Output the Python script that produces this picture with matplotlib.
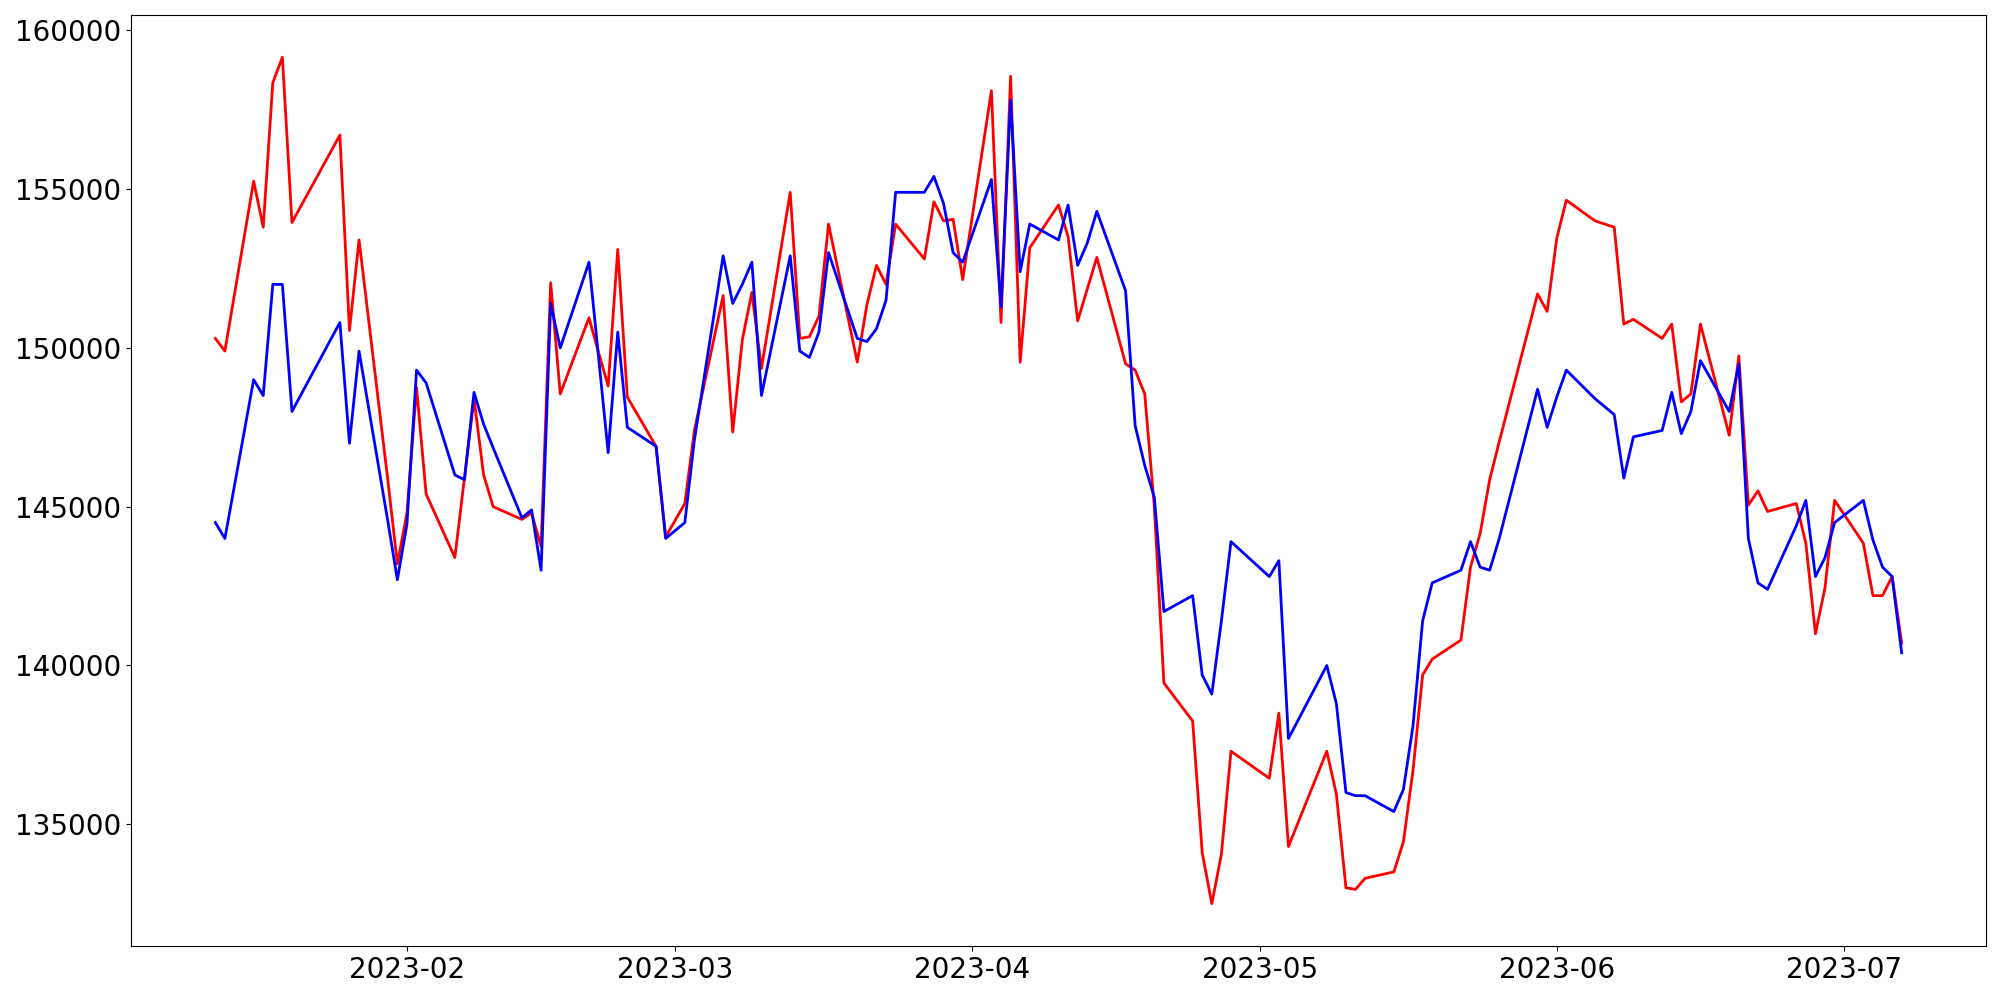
import pandas as pd
import matplotlib
matplotlib.use('Agg')
import matplotlib.pyplot as plt

# 휴장일 (설, 삼일절, 근로자의날, 어린이날, 대체공휴일, 현충일)
HOLIDAYS = ['2023-01-23', '2023-01-24', '2023-03-01', '2023-05-01',
            '2023-05-05', '2023-05-29', '2023-06-06']

dates = pd.bdate_range('2023-01-12', '2023-07-07', freq='C', holidays=HOLIDAYS)

# 실제 종가 (빨강)
actual = [
    150300, 149900, 155250, 153800, 158350, 159150, 153950, 156700, 150550, 153400, 145850, 143200,
    144800, 148750, 145400, 143400, 145900, 148400, 146000, 145000, 144600, 144800,
    143750, 152050, 148550, 150950, 149850, 148800, 153100, 148450, 146900, 144050,
    145100, 147400, 151650, 147350, 150250, 151750, 149350, 154900, 150300, 150350, 151000,
    153900, 149550, 151350, 152600, 152000, 153900, 152800, 154600, 154000, 154050, 152150,
    158100, 150800, 158550, 149550, 153150, 154500, 153500, 150850, 151850, 152850,
    149500, 149300, 148550, 145000, 139450, 138250, 134100, 132500, 134050, 137300,
    136450, 138500, 134300, 137300, 135950, 133000, 132950, 133300, 133500, 134450,
    136700, 139700, 140200, 140800, 143100, 144150, 145850, 147050, 151700, 151150,
    153450, 154650, 154000, 153800, 150750, 150900, 150300, 150750, 148300, 148550, 150750,
    147250, 149750, 145050, 145500, 144850, 145100, 143850, 141000, 142450, 145200,
    143850, 142200, 142200, 142800, 140700,
]

# 예측 종가 (파랑)
predicted = [
    144500, 144000, 149000, 148500, 152000, 152000, 148000, 150800, 147000, 149900, 144550, 142700,
    144450, 149300, 148900, 146000, 145850, 148600, 147600, 146850, 144650, 144900,
    143000, 151400, 150000, 152700, 149700, 146700, 150500, 147500, 146900, 144000,
    144500, 147100, 152900, 151400, 152000, 152700, 148500, 152900, 149900, 149700, 150500,
    153000, 150300, 150200, 150600, 151500, 154900, 154900, 155400, 154550, 153000, 152700,
    155300, 151300, 157800, 152400, 153900, 153400, 154500, 152600, 153300, 154300,
    151800, 147550, 146300, 145300, 141700, 142200, 139700, 139100, 141400, 143900,
    142800, 143300, 137700, 140000, 138800, 136000, 135900, 135900, 135400, 136100,
    138100, 141400, 142600, 143000, 143900, 143100, 143000, 144000, 148700, 147500,
    148450, 149300, 148400, 147900, 145900, 147200, 147400, 148600, 147300, 148000, 149600,
    148000, 149500, 144000, 142600, 142400, 144400, 145200, 142800, 143400, 144500,
    145200, 143950, 143100, 142800, 140400,
]

fig, ax = plt.subplots(figsize=(20, 10), dpi=100)
fig.subplots_adjust(left=0.0655, right=0.993, bottom=0.054, top=0.985)

ax.plot(dates, actual, color='red', linewidth=2)
ax.plot(dates, predicted, color='blue', linewidth=2)

ax.tick_params(axis='both', labelsize=20)

fig.savefig('out.png', dpi=100)
